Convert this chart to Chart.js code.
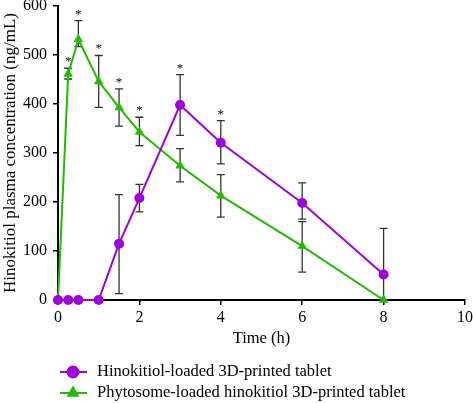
<!DOCTYPE html>
<html>
<head>
<meta charset="utf-8">
<script src="https://cdn.jsdelivr.net/npm/chart.js@4"></script>
<style>
  html, body { margin: 0; padding: 0; background: #fff; }
  #wrap { width: 473px; height: 403px; }
</style>
</head>
<body>
<div id="wrap"><canvas id="pkChart" width="473" height="403"></canvas></div>
<script>
// tiempos de muestreo (h)
const times = [0, 0.25, 0.5, 1, 1.5, 2, 3, 4, 6, 8];

// Hinokitiol-loaded 3D-printed tablet
const hinoMean = [0, 0, 0, 0, 115, 208, 398, 321, 198, 52];
const hinoUp   = [0, 0, 0, 0, 100, 28, 62, 45, 41, 94];
const hinoDown = [0, 0, 0, 0, 102, 28, 62, 43, 33, 94];
const hinoSig  = [false, false, false, false, false, false, true, true, false, false];

// Phytosome-loaded hinokitiol 3D-printed tablet
const phytoMean = [0, 461, 532, 446, 393, 343, 274, 213, 110, 0];
const phytoUp   = [0, 12, 38, 53, 38, 30, 35, 43, 50, 0];
const phytoDown = [0, 10, 15, 53, 38, 28, 33, 44, 53, 0];
const phytoSig  = [false, true, true, true, true, true, false, false, false, false];

const xTicks = [0, 2, 4, 6, 8, 10];
const yTicks = [0, 100, 200, 300, 400, 500, 600];

const seriesLabels = ['Hinokitiol-loaded 3D-printed tablet', 'Phytosome-loaded hinokitiol 3D-printed tablet'];
const purple = '#a000e0';
const green = '#22bb00';
const serif = "'Liberation Serif', 'Times New Roman', serif";

const errors = [
    { up: hinoUp, down: hinoDown, sig: hinoSig },
    { up: phytoUp, down: phytoDown, sig: phytoSig }
];

// barras de error + asteriscos
const errorBarPlugin = {
    id: 'errorBars',
    beforeDatasetsDraw(chart) {
        const ctx = chart.ctx;
        const xs = chart.scales.x, ys = chart.scales.y;
        ctx.save();
        ctx.strokeStyle = '#333';
        ctx.lineWidth = 1.3;
        ctx.fillStyle = '#000';
        ctx.font = '13px ' + serif;
        ctx.textAlign = 'center';
        chart.data.datasets.forEach((ds, i) => {
            const e = errors[i];
            ds.data.forEach((p, j) => {
                if (!e.up[j] && !e.down[j]) return;
                const x = xs.getPixelForValue(p.x);
                const yT = ys.getPixelForValue(p.y + e.up[j]);
                const yB = ys.getPixelForValue(Math.max(0, p.y - e.down[j]));
                ctx.beginPath();
                ctx.moveTo(x, yT); ctx.lineTo(x, yB);
                ctx.moveTo(x - 4, yT); ctx.lineTo(x + 4, yT);
                ctx.moveTo(x - 4, yB); ctx.lineTo(x + 4, yB);
                ctx.stroke();
                if (e.sig[j]) {
                    ctx.fillText('*', x, yT - 3);
                }
            });
        });
        ctx.restore();
    }
};

// leyenda inferior (línea con marcador)
const bottomLegendPlugin = {
    id: 'bottomLegend',
    afterDraw(chart) {
        const ctx = chart.ctx;
        const rows = [
            { color: purple, style: 'circle', y: chart.height - 31 },
            { color: green, style: 'triangle', y: chart.height - 10 }
        ];
        ctx.save();
        ctx.font = '16.5px ' + serif;
        ctx.textBaseline = 'middle';
        ctx.fillStyle = '#000';
        rows.forEach((r, i) => {
            ctx.strokeStyle = r.color;
            ctx.lineWidth = 2;
            ctx.beginPath();
            ctx.moveTo(60, r.y); ctx.lineTo(87, r.y);
            ctx.stroke();
            Chart.helpers.drawPoint(ctx, { pointStyle: r.style, radius: 5.5, borderWidth: 1 }, 73, r.y);
            ctx.fillStyle = r.color;
            ctx.fill();
            ctx.fillStyle = '#000';
            ctx.fillText(seriesLabels[i], 97, r.y);
        });
        ctx.restore();
    }
};

const ctx = document.getElementById('pkChart').getContext('2d');
new Chart(ctx, {
    type: 'line',
    data: {
        datasets: [
            {
                label: seriesLabels[0],
                data: times.map((t, i) => ({ x: t, y: hinoMean[i] })),
                borderColor: purple,
                backgroundColor: purple,
                borderWidth: 2,
                pointStyle: 'circle',
                pointRadius: 5,
                pointBorderWidth: 0,
                tension: 0,
                clip: false
            },
            {
                label: seriesLabels[1],
                data: times.map((t, i) => ({ x: t, y: phytoMean[i] })),
                borderColor: green,
                backgroundColor: green,
                borderWidth: 2,
                pointStyle: 'triangle',
                pointRadius: 5.5,
                pointBorderWidth: 0,
                tension: 0,
                clip: false
            }
        ]
    },
    options: {
        responsive: false,
        animation: false,
        layout: { padding: { top: 6, right: 8, left: 0, bottom: 50 } },
        plugins: {
            legend: { display: false },
            tooltip: { enabled: false }
        },
        scales: {
            x: {
                type: 'linear',
                min: 0,
                max: 10,
                afterBuildTicks: s => { s.ticks = xTicks.map(v => ({ value: v })); },
                afterFit: s => { s.height = 53; s.paddingLeft = 0; s.paddingRight = 0; },
                grid: { drawOnChartArea: false, drawTicks: true, tickLength: 5, color: '#000', lineWidth: 1.5 },
                border: { color: '#000', width: 2 },
                ticks: { color: '#000', font: { family: serif, size: 16 }, padding: 3, maxRotation: 0 },
                title: { display: true, text: 'Time (h)', color: '#000', font: { family: serif, size: 16.5 }, padding: { top: 1 } }
            },
            y: {
                min: 0,
                max: 600,
                afterBuildTicks: s => { s.ticks = yTicks.map(v => ({ value: v })); },
                afterFit: s => { s.width = 58; s.paddingTop = 0; s.paddingBottom = 0; },
                grid: { drawOnChartArea: false, drawTicks: true, tickLength: 5, color: '#000', lineWidth: 1.5 },
                border: { color: '#000', width: 2 },
                ticks: { color: '#000', font: { family: serif, size: 16 }, padding: 6 },
                title: { display: true, text: 'Hinokitiol plasma concentration (ng/mL)', color: '#000', font: { family: serif, size: 17 }, padding: { top: 0, bottom: 0 } }
            }
        }
    },
    plugins: [errorBarPlugin, bottomLegendPlugin]
});
</script>
</body>
</html>
